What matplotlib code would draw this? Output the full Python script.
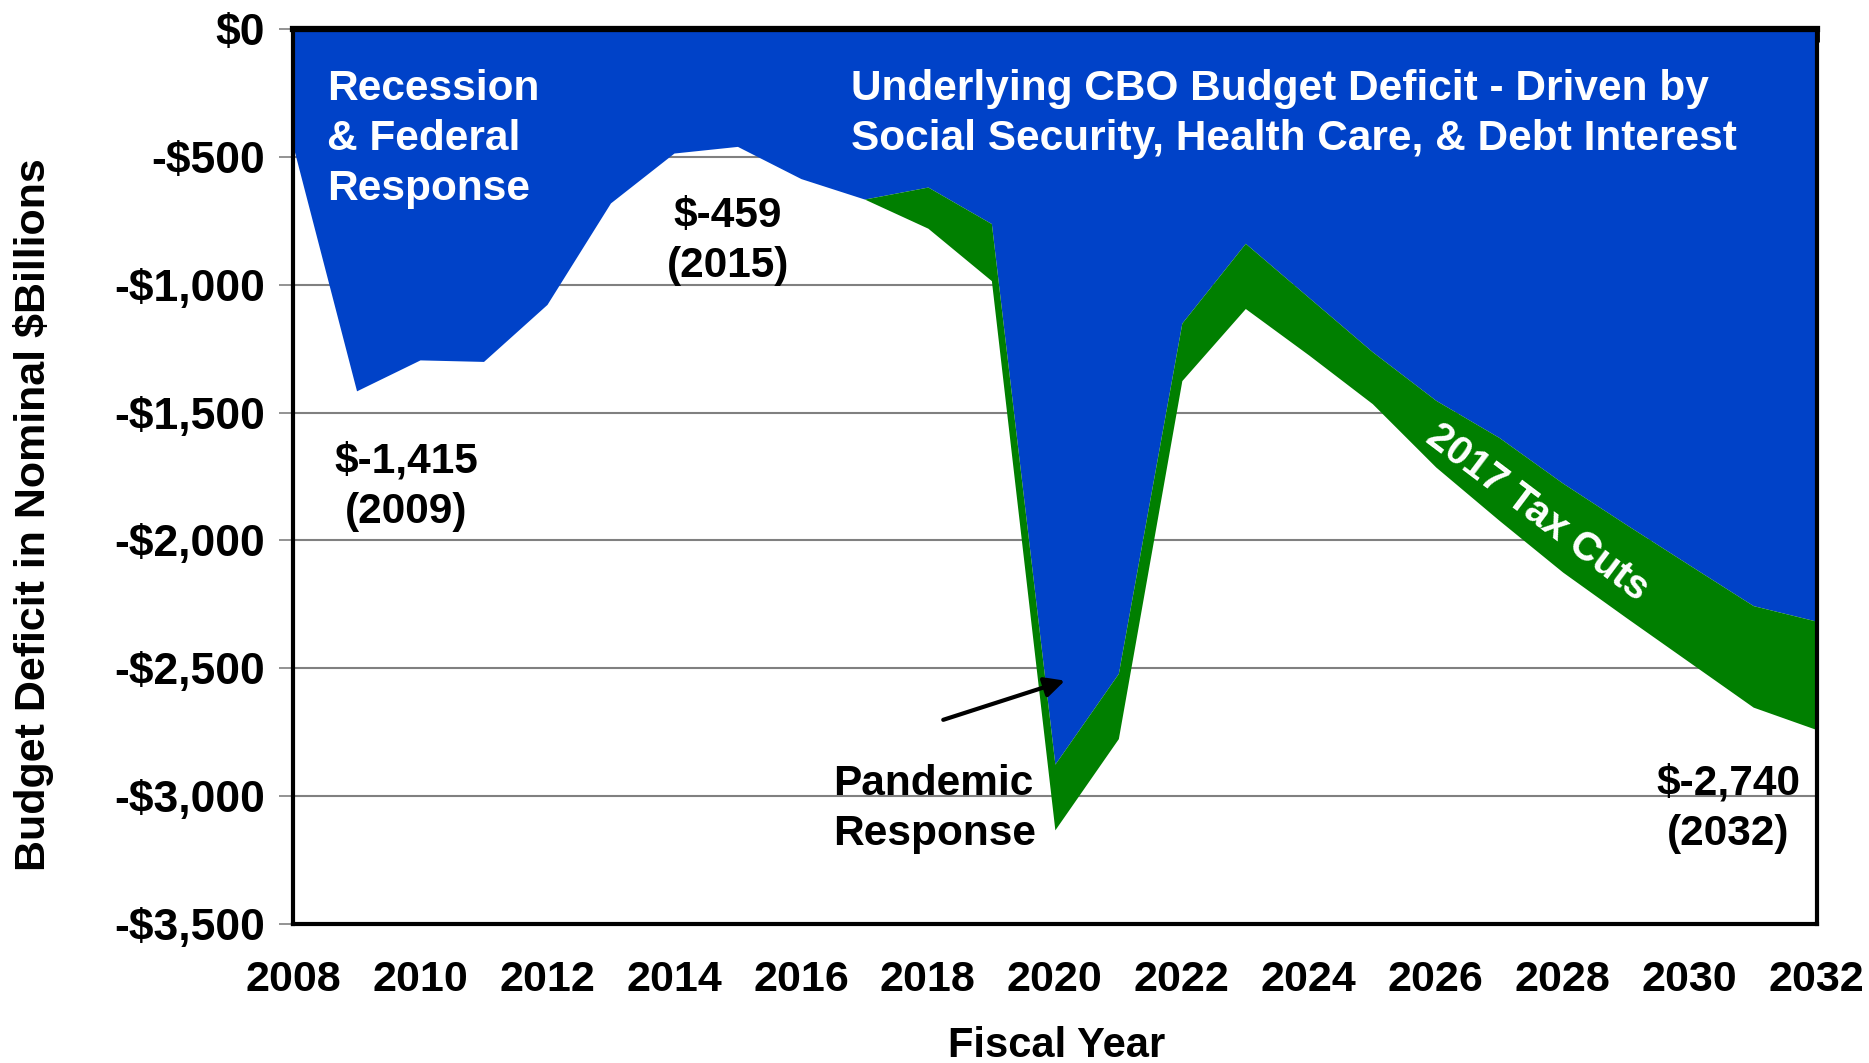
import numpy as np
import matplotlib.pyplot as plt

plt.rcParams['font.family'] = ['Liberation Sans', 'DejaVu Sans']
plt.rcParams['font.weight'] = 'bold'

BLUE = '#0042c8'
GREEN = '#007f00'

years = np.arange(2008, 2033)
# actual / projected deficit, $B
deficit = [-459, -1415, -1294, -1300, -1077, -680, -485, -459, -585, -665,
           -779, -984, -3132, -2775, -1375, -1093, -1275, -1465, -1713, -1922,
           -2124, -2302, -2477, -2652, -2740]
# deficit without the 2017 tax cuts
underlying = [-459, -1415, -1294, -1300, -1077, -680, -485, -459, -585, -665,
              -618, -761, -2875, -2520, -1150, -838, -1050, -1262, -1452, -1598,
              -1776, -1938, -2097, -2255, -2316]
yticks = np.arange(0, -3501, -500)
ytick_labels = ['$0', '-$500', '-$1,000', '-$1,500', '-$2,000', '-$2,500',
                '-$3,000', '-$3,500']

fig = plt.figure(figsize=(18.69, 10.63), dpi=100)
ax = fig.add_axes([0.1568, 0.1308, 0.8152, 0.8419])

ax.fill_between(years, 0, underlying, color=BLUE, lw=0, zorder=2)
ax.fill_between(years, underlying, deficit, color=GREEN, lw=0, zorder=2)

ax.set_xlim(2008, 2032)
ax.set_ylim(-3500, 0)
ax.set_yticks(yticks)
ax.set_yticklabels(ytick_labels)
ax.yaxis.grid(True, color='#808080', lw=1.5, zorder=1)
ax.set_axisbelow(True)

ax.set_xticks(years)
ax.set_xticklabels([str(y) if y % 2 == 0 else '' for y in years])
ax.tick_params(axis='x', top=True, bottom=False, labeltop=False, labelbottom=True,
               direction='in', length=9, width=3.5, pad=26, labelsize=31)
ax.tick_params(axis='y', direction='out', length=10, width=1.2, color='#808080',
               pad=10, labelsize=32)
for t in ax.get_xticklabels() + ax.get_yticklabels():
    t.set_fontweight('bold')
for tk in ax.xaxis.get_major_ticks():
    tk.tick2line.set_zorder(6)
for side in ['left', 'right', 'bottom', 'top']:
    ax.spines[side].set_linewidth(3)
    ax.spines[side].set_zorder(5)
ax.spines['top'].set_linewidth(4.5)

fig.text(0.5656, 0.016, 'Fiscal Year', fontsize=30, fontweight='bold',
         ha='center', va='center')
fig.text(0.018, 0.516, 'Budget Deficit in Nominal $Billions', rotation=90,
         fontsize=31, fontweight='bold', ha='center', va='center')

# annotations
ls = 1.32
ax.text(2008.53, -429, 'Recession\n& Federal\nResponse', color='white',
        fontsize=30.5, fontweight='bold', ha='left', va='center', linespacing=ls,
        zorder=6)
ax.text(2016.79, -331, 'Underlying CBO Budget Deficit - Driven by\nSocial Security, Health Care, & Debt Interest',
        color='white', fontsize=30.5, fontweight='bold', ha='left', va='center',
        linespacing=ls, zorder=6)
ax.text(2009.78, -1790, '$-1,415\n(2009)', fontsize=30.5, fontweight='bold',
        ha='center', va='center', linespacing=ls, zorder=6)
ax.text(2014.85, -830, '$-459\n(2015)', fontsize=30.5, fontweight='bold',
        ha='center', va='center', linespacing=ls, zorder=6)
ax.text(2016.51, -3050, 'Pandemic\nResponse', fontsize=30.5, fontweight='bold',
        ha='left', va='center', linespacing=ls, zorder=6)
ax.text(2030.61, -3050, '$-2,740\n(2032)', fontsize=30.5, fontweight='bold',
        ha='center', va='center', linespacing=ls, zorder=6)
ax.text(2027.6, -1892, '2017 Tax Cuts', color='white', fontsize=29,
        fontweight='bold', ha='center', va='center', rotation=-37,
        rotation_mode='anchor', zorder=6)
ax.annotate('', xy=(2020.2, -2545), xytext=(2018.2, -2705),
            arrowprops=dict(arrowstyle='-|>', color='black', lw=3,
                            mutation_scale=30), zorder=6)

fig.savefig('out.png', dpi=100)
